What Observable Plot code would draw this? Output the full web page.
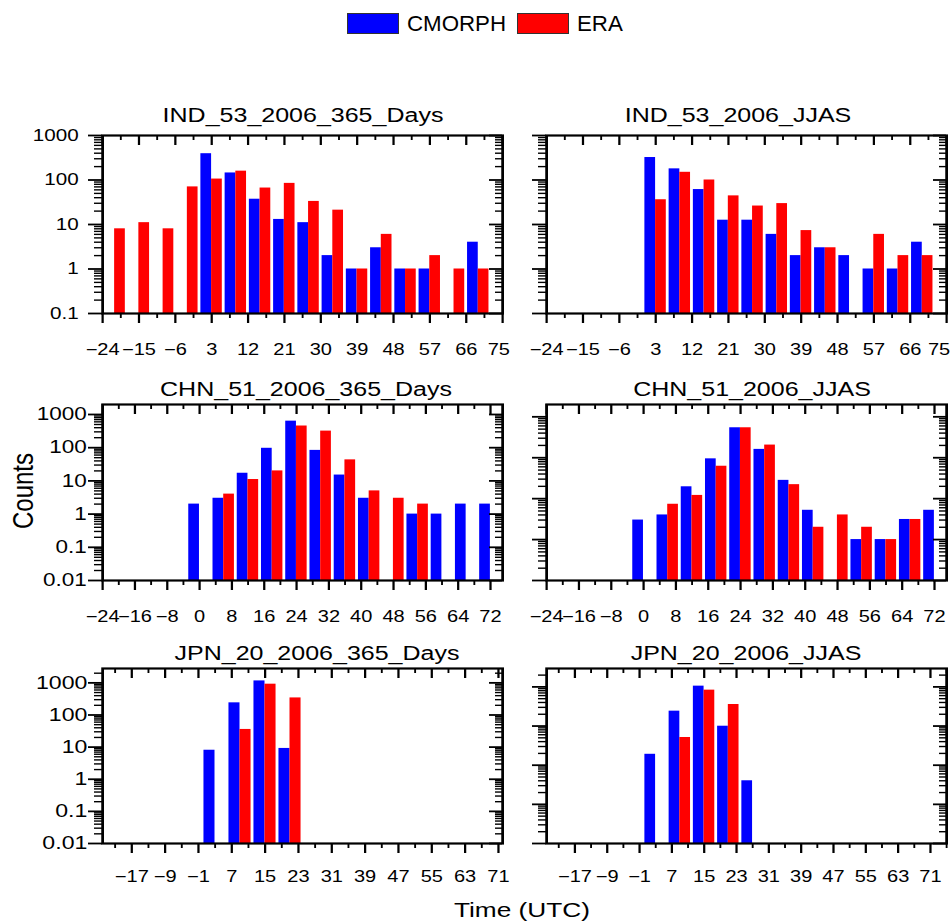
<!DOCTYPE html>
<html><head><meta charset="utf-8">
<script src="https://cdn.jsdelivr.net/npm/d3@7"></script>
<script src="https://cdn.jsdelivr.net/npm/@observablehq/plot@0.6"></script>
<style>
body{margin:0;background:#fff;}
#root{position:relative;width:951px;height:924px;overflow:hidden;font-family:"Liberation Sans",Arial,sans-serif;color:#000;}
.abs{position:absolute;white-space:nowrap;}
.panel{position:absolute;transform-origin:0 0;}
.panel svg{max-width:none !important;display:block;}
</style></head><body><div id="root"></div>
<script>
// ---------- data ----------
const series = ["CMORPH", "ERA"];
const seriesColors = ["#0000ff", "#ff0000"];

const binsIND = [-21, -15, -9, -3, 3, 9, 15, 21, 27, 33, 39, 45, 51, 57, 63, 69];
const IND_365_CMORPH = [null, null, null, null, 390, 144, 37, 13, 11, 2, 1, 3, 1, 1, null, 4];
const IND_365_ERA    = [8, 11, 8, 70, 105, 158, 66, 84, 33, 21, 1, 6, 1, 2, 1, 1];
const IND_JJAS_CMORPH = [null, null, null, null, 320, 178, 61, 12.5, 12.5, 6, 2, 3, 2, 1, 1, 4];
const IND_JJAS_ERA    = [null, null, null, null, 36, 149, 100, 44, 26, 29.5, 7.3, 3, null, 6, 2, 2];

const binsCHN = [0, 6, 12, 18, 24, 30, 36, 42, 48, 54, 60, 66, 72];
const CHN_365_CMORPH = [2, 3, 17, 96, 630, 83, 15, 3, null, 1, 1, 2, 2];
const CHN_365_ERA    = [null, 4, 11, 20, 450, 316, 43, 5, 3, 2, null, null, null];
const CHN_JJAS_CMORPH = [3, 4, 19.5, 94, 540, 160, 28, 5.2, null, 1, 1, 3.1, 5.2];
const CHN_JJAS_ERA    = [null, 7.3, 12, 62, 540, 204, 22, 2, 4, 2, 1, 3.1, null];

const binsJPN = [3, 9, 15, 21, 27];
const JPN_365_CMORPH = [8, 239, 1150, 9.1, null];
const JPN_365_ERA    = [null, 35.5, 910, 340, null];
const JPN_JJAS_CMORPH = [19, 240, 1045, 99, 4];
const JPN_JJAS_ERA    = [null, 51, 826, 355, null];

const xTicksIND = [-24, -15, -6, 3, 12, 21, 30, 39, 48, 57, 66, 75];
const xTicksCHN = [-24, -16, -8, 0, 8, 16, 24, 32, 40, 48, 56, 64, 72];
const xTicksJPN = [-17, -9, -1, 7, 15, 23, 31, 39, 47, 55, 63, 71];
const yTicks = [0.01, 0.1, 1, 10, 100, 1000];

const titles = ["IND_53_2006_365_Days", "IND_53_2006_JJAS", "CHN_51_2006_365_Days",
                "CHN_51_2006_JJAS", "JPN_20_2006_365_Days", "JPN_20_2006_JJAS"];
const yAxisTitle = "Counts";
const xAxisTitle = "Time (UTC)";

// ---------- layout ----------
const S = 1.25;          // horizontal stretch of the panels
const BAR = 2.65;        // bar width in hours
const root = document.getElementById("root");
const fmt = d3.format("d");

function addText(txt, cx, top, size, transform, extra) {
  const d = document.createElement("div");
  d.className = "abs";
  d.textContent = txt;
  d.style.left = cx + "px";
  d.style.top = top + "px";
  d.style.fontSize = size + "px";
  d.style.lineHeight = size + "px";
  d.style.transform = transform;
  if (extra) Object.assign(d.style, extra);
  root.appendChild(d);
  return d;
}

function panel(p) {
  const mL = 72, mR = 14, mT = 14, mB = 52;
  const fw = 400 / S, fh = p.bottom - p.top;
  const [y0, y1] = p.yDomain;
  const rows = [];
  p.bins.forEach((b, i) => {
    if (p.cm[i] != null) rows.push({bin: b, series: series[0], value: p.cm[i]});
    if (p.era[i] != null) rows.push({bin: b, series: series[1], value: p.era[i]});
  });
  const majorX = p.xTicks;
  const last = majorX[majorX.length - 1];
  const step = majorX[1] - majorX[0];
  const minorX = [];
  for (let v = majorX[0] - step / 2; v <= p.xDomain[1] + 1e-9; v += step)
    if (v >= p.xDomain[0] - 1e-9) minorX.push(v);
  const majorY = yTicks.filter(v => v >= y0 * 0.999 && v <= y1 * 1.001);
  const minorY = [];
  for (let k = -3; k <= 4; k++) for (let m = 2; m <= 9; m++) {
    const v = +(m * Math.pow(10, k)).toPrecision(6);
    if (v > y0 && v < y1) minorY.push(v);
  }
  const lastDx = p.lastDx || 0;
  const chart = Plot.plot({
    width: mL + fw + mR, height: mT + fh + mB,
    marginLeft: mL, marginRight: mR, marginTop: mT, marginBottom: mB,
    style: {background: "transparent", overflow: "visible", fontFamily: "'Liberation Sans', Arial, sans-serif", color: "black"},
    x: {domain: p.xDomain},
    y: {type: "log", domain: p.yDomain},
    color: {domain: series, range: seriesColors},
    marks: [
      Plot.rect(rows, {
        x1: d => d.series === series[0] ? d.bin - BAR : d.bin,
        x2: d => d.series === series[0] ? d.bin : d.bin + BAR,
        y1: () => y0, y2: "value", fill: "series"
      }),
      Plot.tickX(majorX, {x: d => d, insetBottom: fh - 10, stroke: "black", strokeWidth: 1.8}),
      Plot.tickX(minorX, {x: d => d, insetBottom: fh - 5, stroke: "black", strokeWidth: 1.5}),
      Plot.tickY(majorY, {y: d => d, insetLeft: fw - 10.4, stroke: "black", strokeWidth: 1.8}),
      Plot.tickY(minorY, {y: d => d, insetLeft: fw - 5.6, stroke: "black", strokeWidth: 1.4}),
      Plot.axisX(majorX, {anchor: "bottom", tickSize: 10, tickPadding: p.xPad, fontSize: 16, label: null, strokeWidth: 1.8,
        tickFormat: d => (lastDx && d === last) ? "" : fmt(d)}),
      lastDx ? Plot.axisX([last], {anchor: "bottom", tickSize: 0, tickPadding: 10 + p.xPad, fontSize: 16, label: null,
        dx: lastDx, tickFormat: fmt}) : null,
      Plot.axisX(minorX, {anchor: "bottom", tickSize: 5, tickFormat: () => "", label: null, strokeWidth: 1.5}),
      Plot.axisY(majorY, {anchor: "left", tickSize: 11.2, tickPadding: p.yPad, fontSize: p.yFont,
        tickFormat: p.yLabels ? (d => String(d)) : (() => ""), label: null, strokeWidth: 1.8}),
      Plot.axisY(minorY, {anchor: "left", tickSize: 6.4, tickFormat: () => "", label: null, strokeWidth: 1.4}),
      Plot.frame({stroke: "black", strokeWidth: 2.2})
    ]
  });
  const holder = document.createElement("div");
  holder.className = "panel";
  holder.style.left = (p.left - mL * S) + "px";
  holder.style.top = (p.top - mT) + "px";
  holder.style.transform = `scaleX(${S})`;
  holder.appendChild(chart);
  root.appendChild(holder);
  // title
  addText(p.title, p.titleX, p.titleBase - 16.9, 20, `translateX(-50%) scaleX(${S})`);
}

panel({title: titles[0], titleX: 303, titleBase: 122, left: 102, top: 135, bottom: 313,
  xDomain: [-24, 75], yDomain: [0.1, 1000], xTicks: xTicksIND, bins: binsIND,
  cm: IND_365_CMORPH, era: IND_365_ERA, xPad: 20, yPad: 8, yFont: 16.5, yLabels: true, lastDx: -3});
panel({title: titles[1], titleX: 738, titleBase: 122, left: 545.5, top: 135, bottom: 313,
  xDomain: [-24, 75], yDomain: [0.1, 1000], xTicks: xTicksIND, bins: binsIND,
  cm: IND_JJAS_CMORPH, era: IND_JJAS_ERA, xPad: 20, yPad: 8, yFont: 16.5, yLabels: false, lastDx: -6});
panel({title: titles[2], titleX: 306, titleBase: 396, left: 101.5, top: 404, bottom: 580,
  xDomain: [-24, 75], yDomain: [0.01, 2000], xTicks: xTicksCHN, bins: binsCHN,
  cm: CHN_365_CMORPH, era: CHN_365_ERA, xPad: 20, yPad: 1.5, yFont: 18, yLabels: true});
panel({title: titles[3], titleX: 751.7, titleBase: 396, left: 545.5, top: 403.5, bottom: 579.5,
  xDomain: [-24, 75], yDomain: [0.1, 2000], xTicks: xTicksCHN, bins: binsCHN,
  cm: CHN_JJAS_CMORPH, era: CHN_JJAS_ERA, xPad: 20.5, yPad: 1.5, yFont: 18, yLabels: false});
panel({title: titles[4], titleX: 316.7, titleBase: 660, left: 101.7, top: 668.3, bottom: 843.3,
  xDomain: [-24, 72], yDomain: [0.01, 2800], xTicks: xTicksJPN, bins: binsJPN,
  cm: JPN_365_CMORPH, era: JPN_365_ERA, xPad: 17.4, yPad: 1, yFont: 18.5, yLabels: true});
panel({title: titles[5], titleX: 746, titleBase: 660, left: 546, top: 668.3, bottom: 843.3,
  xDomain: [-24, 75], yDomain: [0.1, 2950], xTicks: xTicksJPN, bins: binsJPN,
  cm: JPN_JJAS_CMORPH, era: JPN_JJAS_ERA, xPad: 17.4, yPad: 1, yFont: 18.5, yLabels: false});

// axis titles
addText(yAxisTitle, 23, 491, 24, `translate(-50%,-50%) scaleX(1.2) rotate(-90deg)`);
addText(xAxisTitle, 522, 899, 21, `translateX(-50%) scaleX(${S})`);

// legend
const legendX = [347, 517];
series.forEach((s, i) => {
  const sw = document.createElement("div");
  sw.className = "abs";
  Object.assign(sw.style, {left: legendX[i] + "px", top: "13px", width: "50px", height: "19px",
    background: seriesColors[i], border: "1px solid #333"});
  root.appendChild(sw);
  addText(s, legendX[i] + 60, 12.8, 22.3, "none");
});
</script></body></html>
